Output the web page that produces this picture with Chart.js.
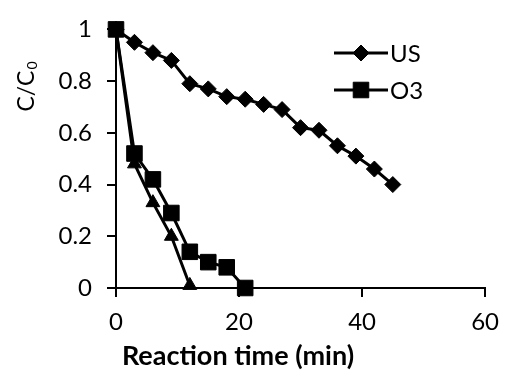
<!DOCTYPE html>
<html>
<head>
<meta charset="utf-8">
<script src="https://cdn.jsdelivr.net/npm/chart.js@4/dist/chart.umd.min.js"></script>
<style>
html,body{margin:0;padding:0;background:#fff;}
#wrap{width:510px;height:371px;position:relative;}
</style>
</head>
<body>
<div id="wrap"><canvas id="c" width="510" height="371"></canvas></div>
<script>
// Data
const timeUS = [0, 3, 6, 9, 12, 15, 18, 21, 24, 27, 30, 33, 36, 39, 42, 45];
const valuesUS = [1, 0.95, 0.91, 0.88, 0.79, 0.77, 0.74, 0.73, 0.71, 0.69, 0.62, 0.61, 0.55, 0.51, 0.46, 0.40];
const timeO3 = [0, 3, 6, 9, 12, 15, 18, 21];
const valuesO3 = [1, 0.52, 0.42, 0.29, 0.14, 0.10, 0.08, 0];
const timeTri = [0, 3, 6, 9, 12];
const valuesTri = [1, 0.48, 0.33, 0.20, 0.01];
const xTicks = [0, 20, 40, 60];
const yTicks = [0, 0.2, 0.4, 0.6, 0.8, 1];
const legendLabels = ['US', 'O3'];

const FONT = 'Lato';
const toPts = (xs, ys) => xs.map((x, i) => ({x: x, y: ys[i]}));

const titlesPlugin = {
  id: 'titles',
  afterDraw(chart) {
    const ctx = chart.ctx;
    ctx.save();
    ctx.fillStyle = '#000';
    // x title
    ctx.font = 'bold 27px ' + FONT;
    ctx.textAlign = 'center';
    ctx.textBaseline = 'alphabetic';
    ctx.fillText('Reaction time (min)', 238, 365);
    // y title with subscript
    ctx.translate(34, 87);
    ctx.rotate(-Math.PI / 2);
    const main = 'C/C';
    ctx.font = '23px ' + FONT;
    const w1 = ctx.measureText(main).width;
    ctx.font = '14px ' + FONT;
    const w2 = ctx.measureText('0').width;
    const start = -(w1 + w2) / 2;
    ctx.textAlign = 'left';
    ctx.font = '23px ' + FONT;
    ctx.fillText(main, start, 0);
    ctx.font = '14px ' + FONT;
    ctx.fillText('0', start + w1 + 1, 3);
    ctx.restore();

    // legend
    ctx.save();
    const items = [
      {label: legendLabels[0], style: 'rectRot', r: 8, y: 53},
      {label: legendLabels[1], style: 'rect', r: 11, y: 90}
    ];
    items.forEach(it => {
      ctx.strokeStyle = '#000';
      ctx.lineWidth = 3;
      ctx.beginPath();
      ctx.moveTo(334, it.y);
      ctx.lineTo(388, it.y);
      ctx.stroke();
      ctx.fillStyle = '#000';
      ctx.lineWidth = 1;
      Chart.helpers.drawPoint(ctx, {pointStyle: it.style, radius: it.r, borderWidth: 1, rotation: 0}, 361, it.y);
      ctx.fillStyle = '#000';
      ctx.font = '24px ' + FONT;
      ctx.textAlign = 'left';
      ctx.textBaseline = 'middle';
      ctx.fillText(it.label, 390, it.y + 1);
    });
    ctx.restore();
  }
};

const common = {
  showLine: true,
  borderColor: '#000',
  backgroundColor: '#000',
  pointBackgroundColor: '#000',
  pointBorderColor: '#000',
  borderWidth: 3,
  pointBorderWidth: 1,
  tension: 0,
  clip: false
};

new Chart(document.getElementById('c'), {
  type: 'scatter',
  data: {
    datasets: [
      Object.assign({}, common, {label: 'Tri', data: toPts(timeTri, valuesTri), pointStyle: 'triangle', pointRadius: 8}),
      Object.assign({}, common, {label: legendLabels[1], data: toPts(timeO3, valuesO3), pointStyle: 'rect', pointRadius: 11}),
      Object.assign({}, common, {label: legendLabels[0], data: toPts(timeUS, valuesUS), pointStyle: 'rectRot', pointRadius: 8})
    ]
  },
  options: {
    responsive: false,
    animation: false,
    events: [],
    layout: {padding: {left: 0, right: 21, top: 21, bottom: 0}},
    plugins: {legend: {display: false}, tooltip: {enabled: false}},
    scales: {
      x: {
        type: 'linear',
        min: 0, max: 60,
        afterFit(s) { s.height = 83; },
        afterBuildTicks(s) { s.ticks = xTicks.map(v => ({value: v})); },
        grid: {display: true, drawOnChartArea: false, drawTicks: true, tickLength: 9, color: '#000', lineWidth: 2},
        border: {display: true, color: '#000', width: 2},
        ticks: {color: '#000', font: {family: FONT, size: 24}, padding: 11, maxRotation: 0}
      },
      y: {
        type: 'linear',
        min: 0, max: 1,
        afterFit(s) { s.width = 116; },
        afterBuildTicks(s) { s.ticks = yTicks.map(v => ({value: v})); },
        grid: {display: true, drawOnChartArea: false, drawTicks: true, tickLength: 9, color: '#000', lineWidth: 2},
        border: {display: true, color: '#000', width: 2},
        ticks: {color: '#000', font: {family: FONT, size: 24}, padding: 15, callback: v => String(Math.round(v * 10) / 10)}
      }
    }
  },
  plugins: [titlesPlugin]
});
</script>
</body>
</html>
